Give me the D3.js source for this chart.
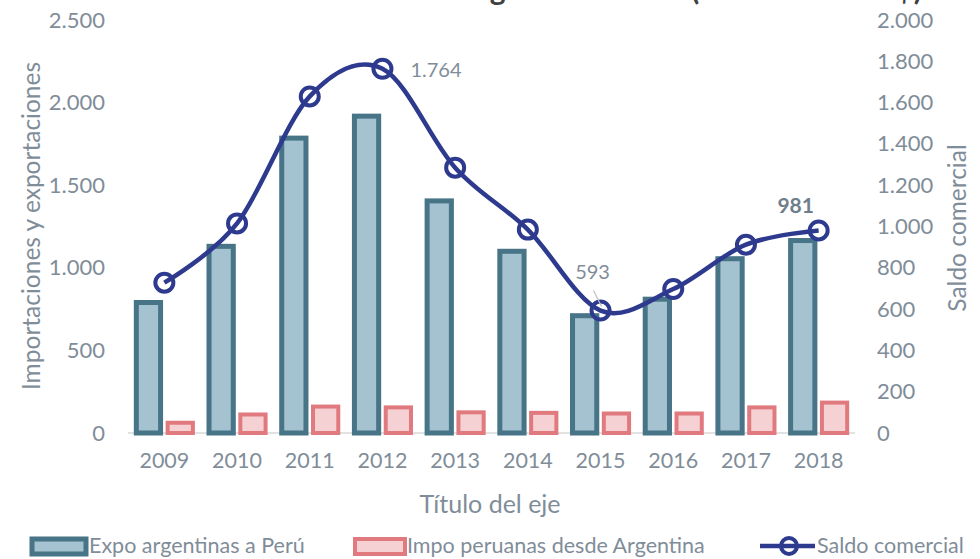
<!DOCTYPE html>
<html><head><meta charset="utf-8">
<script src="https://cdn.jsdelivr.net/npm/d3@7"></script>
<style>body{margin:0;background:#fff}svg{display:block}</style>
</head><body>
<script>
const years = ["2009","2010","2011","2012","2013","2014","2015","2016","2017","2018"];
const expo = [790, 1130, 1785, 1918, 1405, 1100, 710, 810, 1055, 1165];
const impo = [62, 112, 160, 155, 125, 122, 118, 118, 155, 184];
const saldo = [728, 1015, 1630, 1764, 1285, 985, 593, 697, 912, 981];
const leftTicks = [0, 500, 1000, 1500, 2000, 2500];
const rightTicks = [0, 200, 400, 600, 800, 1000, 1200, 1400, 1600, 1800, 2000];
const titleText = "Comercio Argentina – Perú (millones de US$)";

const W = 980, H = 559;
const FONT = "Lato, 'Open Sans', sans-serif";
const gray = "#7f8d99";
const svg = d3.select("body").append("svg").attr("width", W).attr("height", H)
  .style("font-family", FONT);

const x = d3.scaleBand().domain(years).range([128, 855]).paddingInner(0.16).paddingOuter(0.08);
const xs = d3.scaleBand().domain(["expo","impo"]).range([0, x.bandwidth()]).paddingInner(0.08);
const yL = d3.scaleLinear().domain([0, 2500]).range([433, 20]);
const yR = d3.scaleLinear().domain([0, 2000]).range([433, 20]);

const fmt = d3.formatLocale({decimal: ",", thousands: ".", grouping: [3], currency: ["", ""]}).format(",d");

// title (cut off at the top edge, as in the reference)
svg.append("text").attr("x", 922).attr("y", 0).attr("text-anchor", "end")
  .attr("font-size", 30).attr("font-weight", "bold").attr("fill", "#404040").text(titleText);

// baseline
svg.append("line").attr("x1", 128).attr("x2", 855).attr("y1", yL(0)).attr("y2", yL(0))
  .attr("stroke", "#d9d9d9").attr("stroke-width", 1.5);

// left axis
const axL = d3.axisLeft(yL).tickValues(leftTicks).tickFormat(fmt).tickSize(0).tickPadding(0);
const gL = svg.append("g").attr("transform", "translate(105,0)").call(axL);
gL.select(".domain").remove();
gL.selectAll("text").attr("font-size", 22).attr("fill", gray).attr("font-family", FONT);

// right axis
const axR = d3.axisRight(yR).tickValues(rightTicks).tickFormat(fmt).tickSize(0).tickPadding(0);
const gR = svg.append("g").attr("transform", "translate(877,0)").call(axR);
gR.select(".domain").remove();
gR.selectAll("text").attr("font-size", 22).attr("fill", gray).attr("font-family", FONT);

// bottom axis
const axB = d3.axisBottom(x).tickSize(0).tickPadding(0);
const gB = svg.append("g").attr("transform", "translate(0,453)").call(axB);
gB.select(".domain").remove();
gB.selectAll("text").attr("font-size", 21.5).attr("fill", gray).attr("font-family", FONT).attr("dy", "0.71em");

// axis titles
svg.append("text").attr("transform", "translate(40,226) rotate(-90)").attr("text-anchor", "middle")
  .attr("font-size", 24.5).attr("fill", gray).text("Importaciones y exportaciones");
svg.append("text").attr("transform", "translate(966,228) rotate(-90)").attr("text-anchor", "middle")
  .attr("font-size", 24.5).attr("fill", gray).text("Saldo comercial");
svg.append("text").attr("x", 490).attr("y", 513).attr("text-anchor", "middle")
  .attr("font-size", 25).attr("fill", gray).text("Título del eje");

// bars
const swE = 5, swI = 4;
svg.append("g").selectAll("rect").data(years).join("rect")
  .attr("x", d => x(d) + xs("expo") + swE/2)
  .attr("width", xs.bandwidth() - swE)
  .attr("y", (d,i) => yL(expo[i]))
  .attr("height", (d,i) => yL(0) - yL(expo[i]))
  .attr("fill", "#a4c2cf").attr("stroke", "#477486").attr("stroke-width", swE);
svg.append("g").selectAll("rect").data(years).join("rect")
  .attr("x", d => x(d) + xs("impo") + swI/2)
  .attr("width", xs.bandwidth() - swI)
  .attr("y", (d,i) => yL(impo[i]))
  .attr("height", (d,i) => yL(0) - yL(impo[i]))
  .attr("fill", "#f5d1d4").attr("stroke", "#e07a7f").attr("stroke-width", swI);

// line
const lineCol = "#2d3a8e";
const cx = d => x(d) + x.bandwidth()/2;
const line = d3.line().x((d,i) => cx(years[i])).y(d => yR(d)).curve(d3.curveCardinal.tension(0));
svg.append("path").datum(saldo).attr("d", line).attr("fill", "none")
  .attr("stroke", lineCol).attr("stroke-width", 4.5);
svg.append("g").selectAll("circle").data(saldo).join("circle")
  .attr("cx", (d,i) => cx(years[i])).attr("cy", d => yR(d)).attr("r", 9)
  .attr("fill", "none").attr("stroke", lineCol).attr("stroke-width", 4);

// data labels
const i12 = years.indexOf("2012"), i15 = years.indexOf("2015"), i18 = years.indexOf("2018");
svg.append("text").attr("x", cx(years[i12]) + 28).attr("y", yR(saldo[i12]) + 8)
  .attr("font-size", 20).attr("fill", gray).text(fmt(saldo[i12]));
svg.append("line").attr("x1", cx(years[i15]) - 7).attr("y1", yR(saldo[i15]) - 20)
  .attr("x2", cx(years[i15]) + 1).attr("y2", yR(saldo[i15]) - 4)
  .attr("stroke", "#bfbfbf").attr("stroke-width", 1.2);
svg.append("text").attr("x", cx(years[i15]) - 8).attr("y", yR(saldo[i15]) - 32).attr("text-anchor", "middle")
  .attr("font-size", 20).attr("fill", gray).text(fmt(saldo[i15]));
svg.append("text").attr("x", cx(years[i18]) - 23).attr("y", yR(saldo[i18]) - 17).attr("text-anchor", "middle")
  .attr("font-size", 21).attr("font-weight", "bold").attr("fill", "#6e7e8b").text(fmt(saldo[i18]));

// legend
const lg = svg.append("g");
const lfs = 21.5;
lg.append("rect").attr("x", 32).attr("y", 539).attr("width", 54).attr("height", 15)
  .attr("fill", "#a4c2cf").attr("stroke", "#477486").attr("stroke-width", 5);
lg.append("text").attr("x", 89).attr("y", 553).attr("font-size", lfs).attr("fill", gray).text("Expo argentinas a Perú");
lg.append("rect").attr("x", 355).attr("y", 539).attr("width", 50).attr("height", 15)
  .attr("fill", "#f5d1d4").attr("stroke", "#e07a7f").attr("stroke-width", 4);
lg.append("text").attr("x", 407).attr("y", 553).attr("font-size", lfs).attr("fill", gray).text("Impo peruanas desde Argentina");
lg.append("line").attr("x1", 760).attr("x2", 815).attr("y1", 546).attr("y2", 546)
  .attr("stroke", lineCol).attr("stroke-width", 4.5);
lg.append("circle").attr("cx", 789).attr("cy", 546).attr("r", 8).attr("fill", "none")
  .attr("stroke", lineCol).attr("stroke-width", 4);
lg.append("text").attr("x", 817).attr("y", 553).attr("font-size", lfs).attr("fill", gray).text("Saldo comercial");
</script>
</body></html>
